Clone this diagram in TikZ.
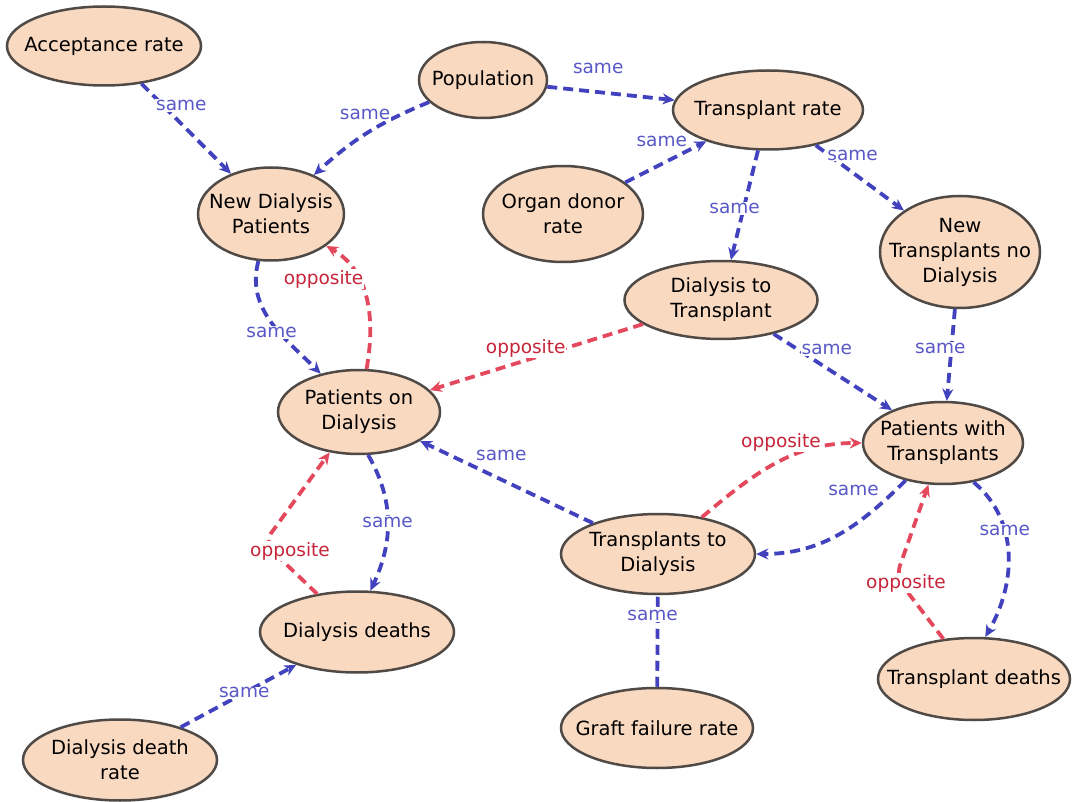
\documentclass[tikz,border=0pt]{standalone}
\usepackage{fontspec}
\setmainfont{DejaVu Sans}
\usetikzlibrary{shapes.geometric,arrows.meta}
\definecolor{bubfill}{RGB}{250,217,193}
\definecolor{bubline}{RGB}{80,74,70}
\definecolor{sameline}{RGB}{66,66,190}
\definecolor{sametext}{RGB}{88,88,200}
\definecolor{oppline}{RGB}{228,72,92}
\definecolor{opptext}{RGB}{198,36,56}

\begin{document}
\begin{tikzpicture}[x=1pt,y=-1pt,
  bub/.style={ellipse, draw=bubline, fill=bubfill, line width=2.5pt, inner sep=0pt},
  txt/.style={align=center, font=\fontsize{19.5}{25}\selectfont, text=black, inner sep=0pt},
  samearr/.style={draw=sameline, line width=3.8pt, dash pattern=on 10pt off 6pt, -{Stealth[length=12pt,width=11pt]}},
  opparr/.style={draw=oppline, line width=3.8pt, dash pattern=on 10pt off 6pt, -{Stealth[length=12pt,width=11pt]}},
  samelbl/.style={fill=white, inner sep=1pt, text=sametext, font=\fontsize{18.5}{20}\selectfont},
  opplbl/.style={fill=white, inner sep=1pt, text=opptext, font=\fontsize{18.5}{20}\selectfont}]
\useasboundingbox (0,0) rectangle (1077,802);

\node[bub, minimum width=194, minimum height=79, label={[txt]center:Acceptance rate}] (acc) at (104,46) {};
\node[bub, minimum width=128, minimum height=76, label={[txt]center:Population}] (pop) at (483,80) {};
\node[bub, minimum width=190, minimum height=79, label={[txt]center:Transplant rate}] (tr) at (768,110) {};
\node[bub, minimum width=146, minimum height=93, label={[txt]center:New Dialysis\\Patients}] (ndp) at (271,214) {};
\node[bub, minimum width=160, minimum height=96, label={[txt]center:Organ donor\\rate}] (odr) at (563,214) {};
\node[bub, minimum width=160, minimum height=112, label={[txt]center:New\\Transplants no\\Dialysis}] (ntnd) at (960,252) {};
\node[bub, minimum width=193, minimum height=78, label={[txt]center:Dialysis to\\Transplant}] (dtt) at (721,300) {};
\node[bub, minimum width=162, minimum height=84, label={[txt]center:Patients on\\Dialysis}] (pod) at (359,412) {};
\node[bub, minimum width=160, minimum height=82, label={[txt]center:Patients with\\Transplants}] (pwt) at (943,443) {};
\node[bub, minimum width=194, minimum height=80, label={[txt]center:Transplants to\\Dialysis}] (ttd) at (658,554) {};
\node[bub, minimum width=194, minimum height=81, label={[txt]center:Dialysis deaths}] (dd) at (357,632) {};
\node[bub, minimum width=192, minimum height=82, label={[txt]center:Transplant deaths}] (td) at (974,679) {};
\node[bub, minimum width=192, minimum height=80, label={[txt]center:Graft failure rate}] (gfr) at (657,728) {};
\node[bub, minimum width=194, minimum height=81, label={[txt]center:Dialysis death\\rate}] (ddr) at (120,760) {};

\coordinate (ddk) at (264,543);
\coordinate (tdk) at (896,577);

\draw[samearr] (acc) -- node[samelbl, pos=.3, xshift=13pt, yshift=5pt] {same} (ndp);
\draw[samearr] (pop) to[bend right=10] node[samelbl, pos=.45, xshift=-8pt, yshift=15pt] {same} (ndp);
\draw[samearr] (pop) -- node[samelbl, pos=.4, yshift=24pt] {same} (tr);
\draw[samearr] (odr) -- node[samelbl, pos=.45, yshift=22pt] {same} (tr);
\draw[samearr] (tr) -- node[samelbl, pos=.53, xshift=-9pt] {same} (dtt);
\draw[samearr] (tr) -- node[samelbl, pos=.35, xshift=6pt, yshift=13pt] {same} (ntnd);
\draw[samearr] (ndp) to[out=255,in=135] node[samelbl, pos=.6, xshift=-8pt] {same} (pod);
\draw[opparr] (pod) to[out=80,in=-30] node[opplbl, pos=.55, anchor=east, xshift=2pt, yshift=13pt] {opposite} (ndp);
\draw[opparr] (dtt) -- node[opplbl, pos=.55, yshift=12pt] {opposite} (pod);
\draw[samearr] (dtt) -- node[samelbl, pos=.45, yshift=19pt] {same} (pwt);
\draw[samearr] (ntnd) -- node[samelbl, pos=.43, xshift=-11pt] {same} (pwt);
\draw[samearr] (ttd) -- node[samelbl, pos=.53, yshift=24pt] {same} (pod);
\draw[opparr] (ttd) to[out=40,in=180] node[opplbl, pos=.6, xshift=-10pt, yshift=14pt] {opposite} (pwt);
\draw[samearr] (pwt) to[out=225,in=0] node[samelbl, pos=.2, anchor=east, xshift=3pt, yshift=15pt] {same} (ttd);
\draw[opparr, rounded corners=12pt] (td) -- (tdk) node[opplbl, xshift=10pt, yshift=-6pt] {opposite} -- (pwt);
\draw[samearr] (pwt.-52) to[out=-40,in=60] node[samelbl, pos=.35] {same} (td.75);
\draw[samearr] (pod.-78) to[out=-60,in=65] node[samelbl, pos=.5] {same} (dd.72);
\draw[opparr, rounded corners=12pt] (dd) -- (ddk) node[opplbl, xshift=26pt, yshift=-8pt] {opposite} -- (pod);
\draw[samearr, -] (gfr) -- node[samelbl, pos=.78, xshift=-5pt] {same} (ttd);
\draw[samearr] (ddr) -- node[samelbl, pos=.55] {same} (dd);
\end{tikzpicture}
\end{document}
